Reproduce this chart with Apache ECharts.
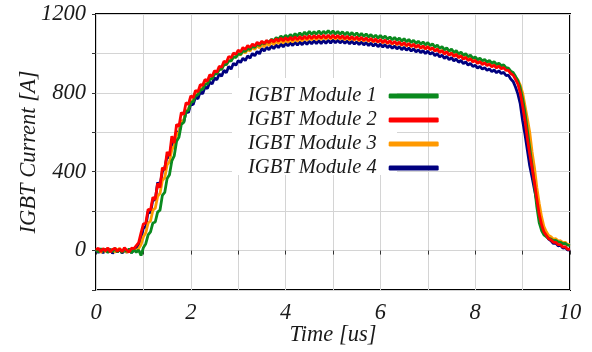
<!DOCTYPE html>
<html>
<head>
<meta charset="utf-8">
<script src="https://cdn.jsdelivr.net/npm/echarts@6/dist/echarts.min.js"></script>
<style>
  html, body { margin: 0; padding: 0; background: #fff; }
  #chart { width: 592px; height: 352px; }
</style>
</head>
<body>
<div id="chart"></div>
<script>
// Turn-on / turn-off current of four paralleled IGBT modules.
// Samples are taken every 0.05 us from 0 to 10 us (201 samples per module).
const SAMPLE_STEP_US = 0.05;

const moduleNames = ['IGBT Module 1', 'IGBT Module 2', 'IGBT Module 3', 'IGBT Module 4'];
const moduleColors = ['#0a8a1e', '#ff0000', '#ff9900', '#00007f'];

// Current in A, one row per microsecond
const module1Current = [
  6, -8, 10, -4, 8, -10, 4, -6, 12, -8, 5, -10, 7, -5, 9, -12, 4, -8, 3, -25,
  15, 35, 80, 95, 140, 145, 195, 205, 280, 295, 365, 385, 455, 480, 555, 575, 640, 650, 705, 712,
  752, 755, 785, 790, 815, 818, 842, 845, 868, 872, 895, 896, 918, 920, 942, 944, 962, 962, 982, 980,
  998, 995, 1013, 1010, 1026, 1020, 1038, 1030, 1048, 1040, 1056, 1048, 1064, 1056, 1072, 1064, 1080, 1072, 1088, 1078,
  1092, 1080, 1096, 1084, 1100, 1088, 1104, 1090, 1108, 1094, 1112, 1096, 1110, 1097, 1114, 1098, 1112, 1100, 1116, 1099,
  1114, 1098, 1112, 1097, 1110, 1094, 1108, 1092, 1106, 1090, 1104, 1088, 1102, 1086, 1099, 1083, 1096, 1080, 1093, 1078,
  1091, 1076, 1088, 1072, 1084, 1069, 1081, 1066, 1078, 1062, 1075, 1059, 1071, 1055, 1067, 1051, 1062, 1047, 1058, 1043,
  1055, 1039, 1048, 1032, 1042, 1025, 1035, 1018, 1028, 1011, 1022, 1004, 1014, 997, 1007, 990, 999, 983, 991, 975,
  982, 968, 976, 962, 970, 956, 964, 950, 958, 944, 951, 938, 942, 928, 926, 910, 903, 884, 862, 825,
  770, 700, 610, 520, 430, 330, 222, 142, 102, 80, 70, 62, 58, 50, 52, 44, 42, 35, 36, 28,
  26
];

const module2Current = [
  4, 12, -6, 10, -2, 14, -8, 6, 12, -4, 10, -6, 14, 2, -8, 12, 10, 25, 40, 90,
  135, 140, 210, 205, 270, 260, 340, 320, 420, 410, 500, 480, 580, 545, 640, 630, 700, 690, 750, 742,
  785, 775, 812, 805, 842, 838, 868, 860, 892, 884, 912, 905, 935, 930, 960, 955, 984, 978, 1002, 995,
  1016, 1008, 1030, 1020, 1040, 1030, 1048, 1038, 1056, 1046, 1062, 1050, 1066, 1054, 1070, 1058, 1074, 1062, 1078, 1064,
  1080, 1066, 1082, 1068, 1084, 1070, 1086, 1072, 1088, 1074, 1090, 1075, 1091, 1076, 1092, 1077, 1093, 1077, 1093, 1078,
  1093, 1077, 1092, 1076, 1090, 1074, 1088, 1072, 1086, 1070, 1084, 1068, 1082, 1066, 1079, 1063, 1076, 1060, 1073, 1057,
  1071, 1055, 1068, 1052, 1064, 1049, 1061, 1046, 1058, 1042, 1055, 1039, 1051, 1035, 1047, 1031, 1042, 1027, 1038, 1023,
  1035, 1019, 1029, 1012, 1022, 1005, 1015, 998, 1008, 991, 1002, 985, 995, 978, 988, 971, 980, 964, 973, 957,
  964, 950, 958, 944, 952, 938, 946, 932, 940, 926, 936, 922, 928, 914, 914, 898, 890, 868, 845, 800,
  735, 660, 570, 490, 420, 345, 262, 185, 132, 95, 78, 60, 54, 42, 42, 30, 30, 18, 20, 6,
  8
];

const module3Current = [
  -4, 8, -10, 6, -6, 10, -2, 8, -8, 4, 10, -6, 6, -10, 8, -4, 6, 0, 10, 30,
  70, 90, 140, 150, 205, 215, 275, 290, 355, 370, 435, 450, 512, 530, 588, 600, 652, 662, 708, 718,
  755, 762, 793, 795, 822, 824, 850, 850, 876, 875, 900, 898, 922, 920, 944, 942, 965, 962, 984, 980,
  1000, 992, 1012, 1002, 1022, 1012, 1032, 1020, 1040, 1028, 1046, 1034, 1052, 1040, 1058, 1045, 1062, 1050, 1066, 1053,
  1069, 1056, 1072, 1058, 1075, 1061, 1078, 1063, 1080, 1066, 1082, 1068, 1084, 1069, 1085, 1070, 1087, 1071, 1088, 1072,
  1088, 1072, 1086, 1071, 1085, 1069, 1083, 1068, 1081, 1066, 1079, 1064, 1078, 1062, 1076, 1060, 1074, 1058, 1071, 1056,
  1069, 1053, 1066, 1050, 1062, 1047, 1059, 1044, 1056, 1040, 1053, 1037, 1049, 1034, 1046, 1030, 1042, 1026, 1038, 1022,
  1035, 1019, 1029, 1012, 1023, 1006, 1016, 999, 1010, 993, 1003, 987, 997, 980, 990, 974, 983, 967, 976, 960,
  967, 953, 961, 947, 955, 941, 949, 935, 943, 930, 940, 926, 932, 918, 920, 904, 897, 880, 866, 840,
  800, 735, 670, 600, 500, 420, 320, 240, 172, 122, 95, 76, 70, 58, 60, 48, 50, 40, 42, 30,
  32
];

const module4Current = [
  2, -10, 6, -12, 4, -8, 8, -14, 2, -6, 6, -12, 0, -8, 4, -10, 2, 10, 30, 60,
  115, 120, 200, 190, 260, 255, 345, 330, 400, 420, 480, 470, 545, 540, 605, 590, 660, 650, 705, 700,
  745, 740, 778, 770, 805, 795, 830, 822, 854, 845, 876, 866, 896, 884, 915, 902, 934, 920, 950, 940,
  964, 954, 976, 964, 988, 976, 1000, 988, 1010, 998, 1026, 1012, 1032, 1018, 1038, 1024, 1043, 1029, 1048, 1033,
  1052, 1038, 1055, 1040, 1057, 1042, 1059, 1044, 1061, 1046, 1063, 1048, 1065, 1049, 1066, 1050, 1067, 1051, 1068, 1052,
  1069, 1054, 1068, 1053, 1066, 1051, 1064, 1049, 1062, 1047, 1060, 1045, 1058, 1043, 1056, 1040, 1053, 1037, 1050, 1034,
  1048, 1032, 1045, 1029, 1041, 1026, 1038, 1023, 1035, 1019, 1032, 1016, 1028, 1012, 1024, 1008, 1019, 1004, 1015, 999,
  1012, 996, 1006, 989, 999, 982, 992, 975, 985, 968, 979, 962, 972, 955, 965, 948, 957, 941, 950, 934,
  940, 926, 934, 920, 928, 914, 922, 908, 916, 902, 912, 898, 904, 888, 890, 870, 858, 830, 795, 745,
  660, 590, 510, 430, 372, 310, 252, 200, 142, 102, 76, 58, 50, 36, 38, 24, 26, 12, 16, 2,
  6
];

const xTickLabels = [0, 2, 4, 6, 8, 10];
const yTickLabels = [0, 400, 800, 1200];

const currents = [module1Current, module2Current, module3Current, module4Current];
// Module 2 is drawn last so it sits on top, module 4 underneath
const drawOrder = [3, 2, 0, 1];

const serifItalic = {
  fontFamily: '"Liberation Serif", "DejaVu Serif", serif',
  fontStyle: 'italic',
  color: '#1a1a1a'
};

const series = drawOrder.map(function (k) {
  return {
    name: moduleNames[k],
    type: 'line',
    data: currents[k].map(function (v, i) { return [i * SAMPLE_STEP_US, v]; }),
    showSymbol: false,
    symbol: 'none',
    sampling: null,
    lineStyle: { width: 2.8, color: moduleColors[k] },
    itemStyle: { color: moduleColors[k] },
    emphasis: { disabled: true },
    animation: false
  };
});

const chart = echarts.init(document.getElementById('chart'), null, { renderer: 'canvas' });
chart.setOption({
  backgroundColor: '#ffffff',
  animation: false,
  grid: {
    left: 96, right: 22, top: 14, bottom: 62,
    containLabel: false, outerBoundsMode: 'none',
    show: true, borderColor: '#000', borderWidth: 2, backgroundColor: 'transparent'
  },
  graphic: {
    elements: [{
      type: 'rect', z: 1, silent: true,
      shape: { x: 232, y: 78, width: 165, height: 97 },
      style: { fill: '#ffffff' }
    }]
  },
  legend: {
    data: moduleNames,
    orient: 'vertical',
    left: 243, top: 81,
    align: 'right',
    icon: 'roundRect',
    itemWidth: 50, itemHeight: 5,
    itemGap: 4,
    selectedMode: false,
    textStyle: Object.assign({ fontSize: 20.5, lineHeight: 20, padding: [0, 7, 0, 0] }, serifItalic)
  },
  xAxis: {
    type: 'value', min: 0, max: 10, interval: 1,
    name: 'Time [us]', nameLocation: 'middle', nameGap: 34, nameMoveOverlap: false,
    nameTextStyle: Object.assign({ fontSize: 22.5 }, serifItalic),
    axisLine: { show: false },
    axisTick: { show: true, length: 4, inside: false, lineStyle: { color: '#333' } },
    axisLabel: Object.assign({
      fontSize: 22.5, margin: 12,
      formatter: function (v) { return xTickLabels.indexOf(v) >= 0 ? String(v) : ''; }
    }, serifItalic),
    splitLine: { show: true, lineStyle: { color: '#d4d4d4', width: 1 } }
  },
  yAxis: {
    type: 'value', min: -200, max: 1200, interval: 200,
    name: 'IGBT Current [A]', nameLocation: 'middle', nameGap: 55, nameMoveOverlap: false,
    nameTextStyle: Object.assign({ fontSize: 22.5 }, serifItalic),
    axisLine: { show: false },
    axisTick: { show: true, length: 4, inside: false, lineStyle: { color: '#333' } },
    axisLabel: Object.assign({
      fontSize: 22.5, margin: 10, padding: [4, 0, 0, 0],
      formatter: function (v) { return yTickLabels.indexOf(v) >= 0 ? String(v) : ''; }
    }, serifItalic),
    splitLine: { show: true, lineStyle: { color: '#d4d4d4', width: 1 } }
  },
  series: series
});
</script>
</body>
</html>
